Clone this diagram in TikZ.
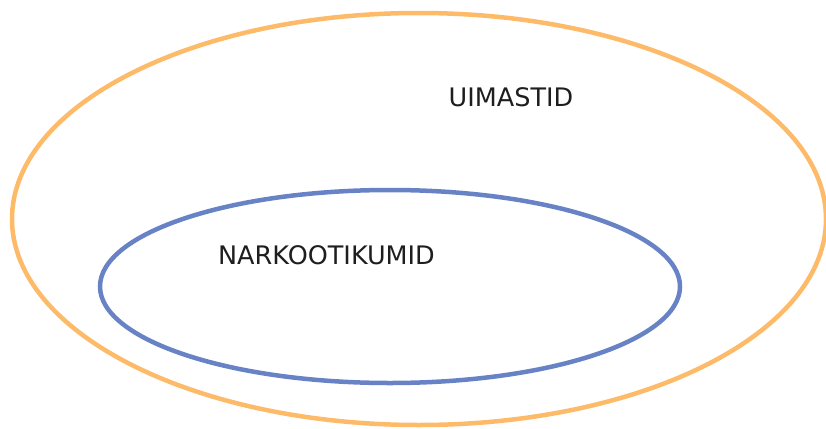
\documentclass[tikz,border=0pt]{standalone}
\usepackage{fontspec}
\setmainfont{DejaVu Sans}
\usetikzlibrary{shapes.geometric}
\definecolor{setorange}{RGB}{253,187,106}
\definecolor{setblue}{RGB}{104,131,197}
\definecolor{settext}{RGB}{30,30,30}

\begin{document}
\begin{tikzpicture}[
    x=1pt, y=-1pt,
    every node/.style={font=\fontsize{25.5}{30}\selectfont, text=settext},
    setring/.style={ellipse, draw, line width=4.5pt, inner sep=0pt},
    lbl/.style={inner sep=0pt, anchor=center},
  ]
  \useasboundingbox (0,0) rectangle (826,428);
  \node[setring, draw=setorange, minimum width=814pt, minimum height=412pt] (uimastid) at (419,219) {};
  \node[setring, draw=setblue, minimum width=580pt, minimum height=193pt] (narkootikumid) at (390,286.5) {};
  \node[lbl] (tuimastid) at (511,97) {UIMASTID};
  \node[lbl] (tnarkootikumid) at (326.5,255) {NARKOOTIKUMID};
\end{tikzpicture}
\end{document}
